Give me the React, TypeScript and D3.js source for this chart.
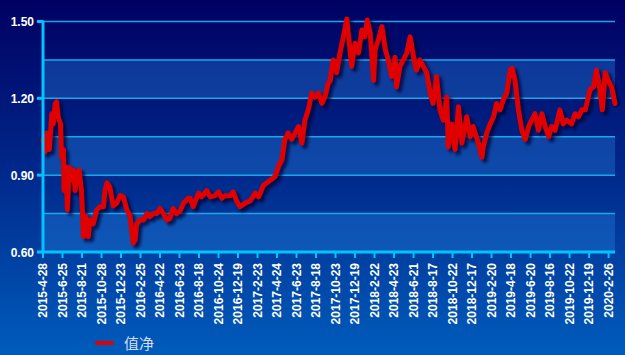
import React from "react";
import * as d3 from "d3";

const tradingDay = [0,4,8,13,18,21,25,28,31,36,38,42,43,47,50,54,59,62,66,70,74,79,83,88,93,96,103,110,117,124,127,131,137,144,151,158,165,172,178,185,189,192,199,206,213,219,226,233,240,247,254,260,267,274,281,288,298,302,308,319,325,336,343,353,360,367,373,384,390,397,404,414,425,435,442,452,459,466,476,483,490,496,503,510,517,524,531,537,544,551,558,565,572,578,585,589,595,602,609,616,623,626,633,640,647,654,660,665,671,678,681,688,695,702,708,715,722,725,732,739,746,753,760,766,773,780,787,794,800,807,814,821,828,831,838,845,852,859,869,876,882,886,893,900,903,910,917,924,930,937,944,951,958,962,968,975,982,989,996,1002,1009,1016,1023,1030,1037,1043,1050,1060,1067,1074,1084,1091,1098,1105,1112,1122,1129,1135,1142,1147,1153,1159,1166,1173];
const nav = [1.037,0.99,1.065,1.0,1.14,1.10,1.18,1.187,1.128,1.10,0.97,1.0,0.84,0.933,0.764,0.93,0.88,0.92,0.84,0.91,0.92,0.84,0.66,0.74,0.66,0.725,0.71,0.764,0.777,0.777,0.84,0.87,0.855,0.78,0.79,0.82,0.815,0.764,0.745,0.635,0.647,0.71,0.725,0.725,0.75,0.738,0.75,0.75,0.77,0.75,0.725,0.73,0.77,0.75,0.76,0.79,0.81,0.81,0.777,0.83,0.815,0.84,0.815,0.82,0.835,0.81,0.82,0.82,0.835,0.80,0.777,0.79,0.80,0.83,0.815,0.86,0.87,0.88,0.895,0.935,0.96,1.04,1.065,1.04,1.065,1.09,1.025,1.115,1.155,1.22,1.205,1.22,1.18,1.205,1.26,1.27,1.35,1.30,1.377,1.44,1.51,1.455,1.325,1.415,1.377,1.467,1.44,1.506,1.455,1.27,1.39,1.43,1.48,1.39,1.35,1.285,1.36,1.245,1.325,1.35,1.377,1.44,1.36,1.31,1.35,1.325,1.30,1.22,1.18,1.285,1.155,1.115,1.205,1.01,1.10,1.0,1.167,1.025,1.128,1.05,1.09,1.065,1.025,0.97,1.01,1.065,1.10,1.128,1.18,1.155,1.195,1.22,1.31,1.317,1.27,1.155,1.075,1.04,1.09,1.115,1.14,1.075,1.14,1.09,1.05,1.09,1.075,1.155,1.10,1.115,1.10,1.14,1.128,1.155,1.155,1.235,1.245,1.31,1.235,1.155,1.30,1.27,1.245,1.18];

const tickLabels = ["2015-4-28","2015-6-25","2015-8-21","2015-10-28","2015-12-23","2016-2-25","2016-4-22","2016-6-23","2016-8-18","2016-10-24","2016-12-19","2017-2-23","2017-4-24","2017-6-23","2017-8-18","2017-10-23","2017-12-19","2018-2-22","2018-4-23","2018-6-21","2018-8-17","2018-10-22","2018-12-17","2019-2-20","2019-4-18","2019-6-20","2019-8-16","2019-10-22","2019-12-19","2020-2-26"];
const daysPerTick = 40;
const gridValues = [0.6, 0.75, 0.9, 1.05, 1.2, 1.35, 1.5];
const labelValues = [0.6, 0.9, 1.2, 1.5];
const seriesName = "值净";

const W = 625, H = 355;
const left = 43, right = 615, top = 21.5, bottom = 252;

export default function App() {
  const x = d3.scaleLinear().domain([0, 1173]).range([left, right]);
  const tickX = d3.scaleLinear().domain([0, 29.33]).range([left, right]);
  const y = d3.scaleLinear().domain([0.6, 1.5]).range([bottom, top]);
  const pts = tradingDay.map((d, i) => [d, nav[i]] as [number, number]);
  const line = d3.line<[number, number]>().x(d => x(d[0])).y(d => y(d[1]));
  const path = line(pts) || "";
  const bands = [[1.2, 1.35], [0.9, 1.05], [0.6, 0.75]];
  return (
    <svg width={W} height={H} style={{ position: "absolute", left: 0, top: 0, display: "block" }}
      fontFamily="'Liberation Sans', Arial, sans-serif">
      <defs>
        <linearGradient id="bg" x1="0" y1="0" x2="0" y2="1">
          <stop offset="0" stopColor="#000062" />
          <stop offset="0.5" stopColor="#002a8c" />
          <stop offset="1" stopColor="#005cbc" />
        </linearGradient>
        <filter id="blur" x="-10%" y="-10%" width="120%" height="120%">
          <feGaussianBlur stdDeviation="1.5" />
        </filter>
      </defs>
      <rect x={0} y={0} width={W} height={H} fill="url(#bg)" />
      {bands.map(([a, b], i) => (
        <rect key={i} x={left} y={y(b)} width={right - left} height={y(a) - y(b)} fill="#2a8ae8" opacity={0.34} />
      ))}
      {gridValues.map(v => (
        <line key={v} x1={left} x2={right} y1={y(v)} y2={y(v)} stroke="#18a8e8" strokeWidth={1.5} />
      ))}
      <path d={path} fill="none" stroke="#000030" strokeOpacity={0.7} strokeWidth={5.5} strokeLinejoin="round"
        transform="translate(3,3)" filter="url(#blur)" />
      <path d={path} fill="none" stroke="#e00000" strokeWidth={5} strokeLinejoin="round" strokeLinecap="round" />
      <line x1={left} x2={left} y1={top - 1} y2={bottom + 1} stroke="#00c4ff" strokeWidth={3} />
      <line x1={left - 1.5} x2={right} y1={bottom} y2={bottom} stroke="#00c4ff" strokeWidth={3} />
      {labelValues.map(v => (
        <g key={v}>
          <line x1={left - 6} x2={left} y1={y(v)} y2={y(v)} stroke="#00c4ff" strokeWidth={3} />
          <text x={34} y={y(v) + 4.5} textAnchor="end" fill="#ffffff" fontSize={12} fontWeight="bold">{v.toFixed(2)}</text>
        </g>
      ))}
      {tickLabels.map((t, i) => {
        const tx = tickX(i);
        return (
          <g key={t}>
            <line x1={tx} x2={tx} y1={bottom} y2={bottom + 6} stroke="#00c4ff" strokeWidth={2} />
            <text transform={`translate(${tx + 4},${263}) rotate(-90)`} textAnchor="end" fill="#ffffff" fontSize={12} fontWeight="bold">{t}</text>
          </g>
        );
      })}
      <line x1={98} x2={113} y1={346} y2={346} stroke="#000030" strokeOpacity={0.6} strokeWidth={4} filter="url(#blur)" />
      <line x1={97} x2={112} y1={343} y2={343} stroke="#e00000" strokeWidth={4} strokeLinecap="round" />
      <text x={124} y={349} fill="#d8dcf0" fontSize={15} fontFamily="'Noto Sans CJK SC', sans-serif">{seriesName}</text>
    </svg>
  );
}
